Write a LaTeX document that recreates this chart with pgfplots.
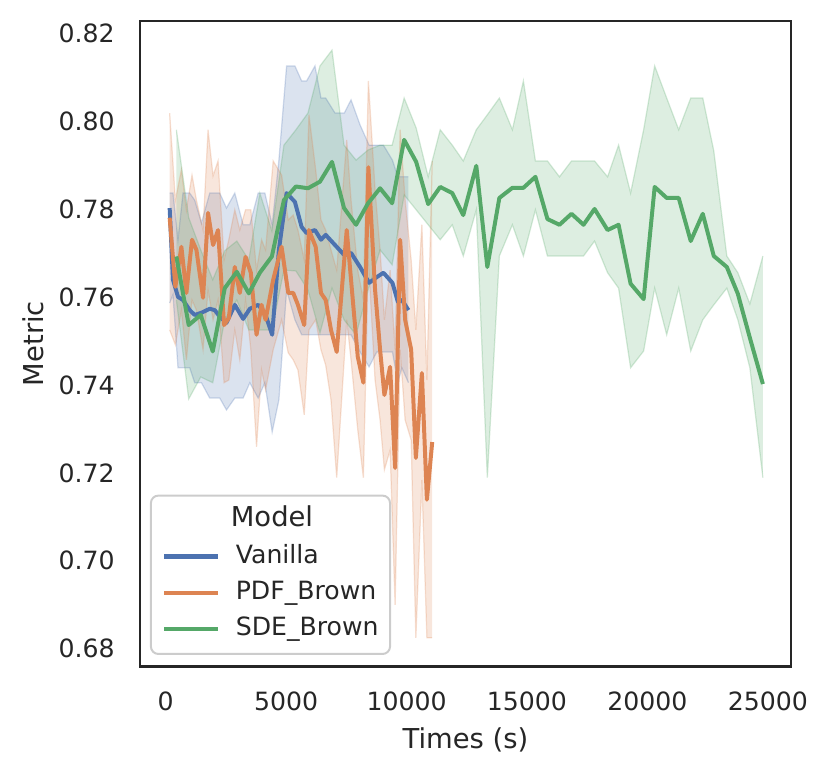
\documentclass[border=0pt]{standalone}
\usepackage{fontspec}
\setmainfont{DejaVu Sans}
\usepackage{pgfplots}
\pgfplotsset{compat=1.18}
\usepackage{pgfplotstable}
\usepgfplotslibrary{fillbetween}
\definecolor{cblue}{HTML}{4C72B0}
\definecolor{corange}{HTML}{DD8452}
\definecolor{cgreen}{HTML}{55A868}
\definecolor{txt}{HTML}{262626}
\definecolor{lgray}{HTML}{CCCCCC}

\pgfplotstableread{
x y up lo
166 0.7802 0.7836 0.7586
304 0.7639 0.7836 0.7605
512 0.7600 0.7730 0.7439
720 0.7593 0.7836 0.7439
998 0.7570 0.7836 0.7439
1206 0.7559 0.7820 0.7405
1485 0.7564 0.7768 0.7405
1830 0.7573 0.7836 0.7370
2038 0.7570 0.7836 0.7370
2246 0.7555 0.7836 0.7370
2525 0.7541 0.7802 0.7343
2870 0.7582 0.7836 0.7370
3216 0.7550 0.7764 0.7370
3494 0.7573 0.7764 0.7405
3840 0.7582 0.7836 0.7370
4118 0.7564 0.7836 0.7405
4422 0.7514 0.7764 0.7293
4701 0.7707 0.7911 0.7366
5021 0.7836 0.8125 0.7616
5366 0.7816 0.8125 0.7548
5645 0.7759 0.8091 0.7514
5853 0.7745 0.8091 0.7514
6198 0.7752 0.8125 0.7514
6448 0.7730 0.8052 0.7514
6644 0.7741 0.8052 0.7514
7030 0.7718 0.8018 0.7514
7417 0.7695 0.8018 0.7514
7696 0.7700 0.8048 0.7514
8070 0.7668 0.7991 0.7475
8445 0.7632 0.7945 0.7441
8765 0.7645 0.7945 0.7475
9040 0.7655 0.7945 0.7475
9414 0.7632 0.7911 0.7475
9639 0.7589 0.7873 0.7405
9805 0.7593 0.7873 0.7439
10080 0.7570 0.7873 0.7405
}\vanilla

\pgfplotstableread{
x y up lo
166 0.7780 0.8018 0.7525
404 0.7623 0.7820 0.7491
653 0.7714 0.7889 0.7570
861 0.7609 0.7798 0.7457
1094 0.7730 0.7877 0.7593
1277 0.7707 0.7820 0.7570
1552 0.7598 0.7752 0.7480
1760 0.7791 0.7980 0.7616
1968 0.7718 0.7875 0.7548
2176 0.7752 0.7909 0.7593
2425 0.7536 0.7684 0.7405
2621 0.7552 0.7730 0.7411
2870 0.7668 0.7798 0.7525
3078 0.7609 0.7752 0.7457
3316 0.7691 0.7798 0.7593
3536 0.7655 0.7798 0.7480
3773 0.7514 0.7661 0.7259
3981 0.7582 0.7730 0.7434
4148 0.7548 0.7707 0.7389
4464 0.7639 0.7909 0.7480
4813 0.7714 0.7877 0.7548
5088 0.7609 0.7775 0.7473
5296 0.7609 0.7786 0.7457
5491 0.7582 0.7752 0.7434
5753 0.7536 0.7684 0.7332
5949 0.7752 0.8014 0.7525
6228 0.7714 0.7889 0.7548
6448 0.7609 0.7775 0.7480
6644 0.7593 0.7752 0.7445
6864 0.7525 0.7707 0.7366
7101 0.7475 0.7661 0.7189
7517 0.7752 0.7957 0.7548
7696 0.7639 0.7820 0.7457
7975 0.7464 0.7661 0.7298
8208 0.7405 0.7593 0.7189
8416 0.7895 0.8091 0.7684
8694 0.7616 0.7843 0.7411
8902 0.7480 0.7707 0.7320
9081 0.7377 0.7548 0.7207
9318 0.7441 0.7661 0.7252
9526 0.7211 0.7480 0.6900
9734 0.7730 0.7980 0.7480
9942 0.7548 0.7820 0.7320
10192 0.7480 0.7684 0.7275
10387 0.7234 0.7525 0.6825
10637 0.7427 0.7764 0.7184
10845 0.7139 0.7411 0.6825
11066 0.7270 0.7909 0.6825
}\pdfbrown

\pgfplotstableread{
x y up lo
445 0.7692 0.7980 0.7593
957 0.7536 0.7780 0.7368
1456 0.7559 0.7707 0.7418
1955 0.7476 0.7639 0.7405
2454 0.7620 0.7705 0.7548
2954 0.7657 0.7727 0.7593
3453 0.7608 0.7684 0.7525
3910 0.7655 0.7836 0.7525
4410 0.7692 0.7750 0.7525
4909 0.7820 0.7945 0.7661
5408 0.7851 0.7980 0.7659
5907 0.7847 0.8018 0.7616
6406 0.7862 0.8125 0.7518
6906 0.7907 0.8161 0.7620
7405 0.7802 0.7945 0.7548
7904 0.7764 0.7911 0.7514
8403 0.7813 0.7934 0.7616
8902 0.7847 0.7945 0.7707
9402 0.7813 0.7945 0.7673
9901 0.7957 0.8052 0.7832
10400 0.7907 0.7984 0.7798
10899 0.7811 0.7873 0.7764
11398 0.7850 0.7980 0.7730
11898 0.7836 0.7945 0.7764
12355 0.7786 0.7909 0.7693
12896 0.7898 0.7980 0.7798
13354 0.7668 0.8014 0.7189
13853 0.7825 0.8052 0.7693
14394 0.7848 0.7980 0.7764
14851 0.7848 0.8091 0.7693
15350 0.7873 0.7909 0.7798
15850 0.7777 0.7909 0.7693
16349 0.7764 0.7873 0.7693
16848 0.7789 0.7909 0.7693
17347 0.7764 0.7909 0.7693
17805 0.7800 0.7909 0.7727
18346 0.7752 0.7873 0.7655
18803 0.7764 0.7945 0.7620
19302 0.7630 0.7836 0.7439
19843 0.7595 0.7980 0.7477
20301 0.7850 0.8125 0.7620
20800 0.7825 0.8052 0.7514
21299 0.7825 0.7980 0.7620
21798 0.7727 0.8052 0.7477
22298 0.7789 0.8052 0.7548
22755 0.7693 0.7932 0.7582
23296 0.7668 0.7693 0.7620
23754 0.7607 0.7655 0.7548
24253 0.7507 0.7584 0.7439
24794 0.7402 0.7693 0.7189
}\sdebrown

\begin{document}
\begin{tikzpicture}
\begin{axis}[
  at={(0pt,0pt)}, anchor=south west,
  scale only axis, width=261.4pt, height=259.3pt,
  xmin=-1067, xmax=25957, ymin=0.6760, ymax=0.8228,
  axis line style={txt, line width=0.9pt},
  major tick length=0pt,
  xtick={0,5000,10000,15000,20000,25000},
  ytick={0.68,0.70,0.72,0.74,0.76,0.78,0.80,0.82},
  scaled x ticks=false, scaled y ticks=false,
  xticklabel style={/pgf/number format/1000 sep={}, /pgf/number format/fixed, anchor=north, yshift=-10pt},
  yticklabel style={/pgf/number format/fixed, /pgf/number format/fixed zerofill, /pgf/number format/precision=2, anchor=east, xshift=-10pt},
  /pgf/number format/assume math mode=true,
  tick label style={font=\fontsize{10.1}{12}\selectfont, text=txt, inner sep=0pt},
  xlabel={Times (s)}, ylabel={Metric},
  every axis x label/.style={at={(axis description cs:0.5,-0.1138)}, anchor=center, font=\fontsize{11}{13}\selectfont, text=txt},
  every axis y label/.style={at={(axis description cs:-0.1641,0.5)}, rotate=90, anchor=center, font=\fontsize{11}{13}\selectfont, text=txt},
  legend style={at={(axis description cs:0.0153,0.0177)}, anchor=south west,
    draw=lgray, line width=0.8pt, rounded corners=3pt, fill=white, fill opacity=0.8, text opacity=1,
    font=\fontsize{10.1}{12}\selectfont, text=txt, inner xsep=4.6pt, inner ysep=5pt, row sep=4.8pt,
    nodes={inner sep=0pt, text height=7.5pt, text depth=2.3pt},
    /tikz/every odd column/.append style={column sep=6.5pt}},
  legend cell align=left,
  legend image code/.code={\draw[#1, line width=1.7pt] (0pt,0pt) -- (21.3pt,0pt);},
]
% bands
\addplot[name path=vu, draw=cblue, draw opacity=0.25, line width=0.5pt, forget plot] table[x=x, y=up]{\vanilla};
\addplot[name path=vl, draw=cblue, draw opacity=0.25, line width=0.5pt, forget plot] table[x=x, y=lo]{\vanilla};
\addplot[fill=cblue, fill opacity=0.2, draw=none, forget plot] fill between[of=vu and vl];
\addplot[name path=pu, draw=corange, draw opacity=0.25, line width=0.5pt, forget plot] table[x=x, y=up]{\pdfbrown};
\addplot[name path=pl, draw=corange, draw opacity=0.25, line width=0.5pt, forget plot] table[x=x, y=lo]{\pdfbrown};
\addplot[fill=corange, fill opacity=0.2, draw=none, forget plot] fill between[of=pu and pl];
\addplot[name path=su, draw=cgreen, draw opacity=0.25, line width=0.5pt, forget plot] table[x=x, y=up]{\sdebrown};
\addplot[name path=sl, draw=cgreen, draw opacity=0.25, line width=0.5pt, forget plot] table[x=x, y=lo]{\sdebrown};
\addplot[fill=cgreen, fill opacity=0.2, draw=none, forget plot] fill between[of=su and sl];
% legend title
\addlegendimage{empty legend}
\addlegendentry{\fontsize{11}{13}\selectfont\hspace{-2pt}Model}
% lines
\addplot[cblue, line width=1.6pt, line join=round] table[x=x, y=y]{\vanilla};
\addlegendentry{Vanilla}
\addplot[corange, line width=1.6pt, line join=round] table[x=x, y=y]{\pdfbrown};
\addlegendentry{PDF\_Brown}
\addplot[cgreen, line width=1.6pt, line join=round] table[x=x, y=y]{\sdebrown};
\addlegendentry{SDE\_Brown}
\end{axis}
\pgfresetboundingbox
\path[use as bounding box] (-56.2pt,-44pt) rectangle (277.1pt,267.6pt);
\end{tikzpicture}
\end{document}
